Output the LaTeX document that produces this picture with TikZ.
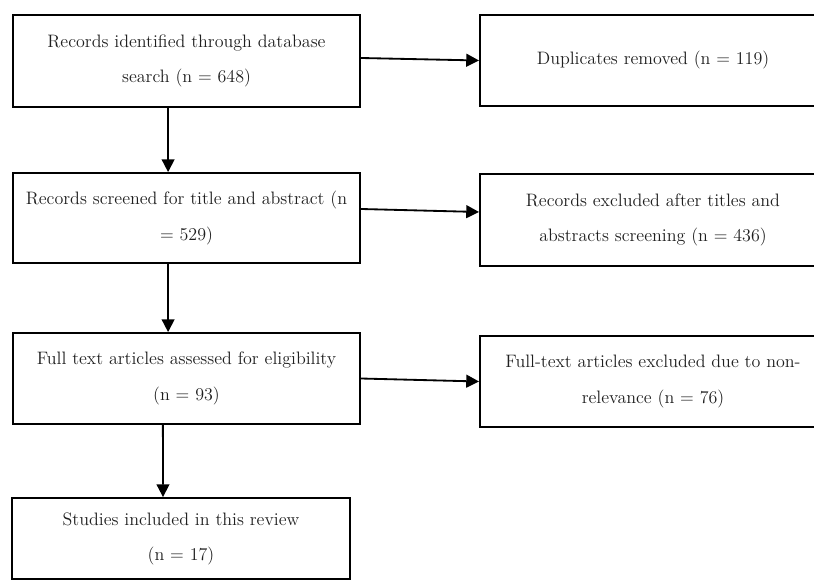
\documentclass[tikz,border=0pt]{standalone}
\usepackage{tikz}
\usetikzlibrary{arrows.meta}

\begin{document}
\begin{tikzpicture}[x=0.025cm,y=-0.025cm,>={Triangle[length=3.2mm,width=3.2mm]},line width=1.3pt,
  box/.style={draw,rectangle,align=center,inner sep=0pt,text=black!88,font=\fontsize{12.8}{25}\selectfont},
  flow/.style={->,line width=1.3pt}]
\clip (0,0) rectangle (814,582);
% left column
\node[box,minimum width=8.675cm,minimum height=2.3cm] (ident) at (186.5,61) {Records identified through database\\search (n = 648)};
\node[box,minimum width=8.675cm,minimum height=2.25cm] (screen) at (186.5,218) {Records screened for title and abstract (n\\= 529)};
\node[box,minimum width=8.675cm,minimum height=2.275cm] (full) at (186.5,378.5) {Full text articles assessed for eligibility\\(n = 93)};
\node[box,minimum width=8.45cm,minimum height=2.025cm] (incl) at (181,538.5) {Studies included in this review\\(n = 17)};
% right column
\node[box,minimum width=8.65cm,minimum height=2.275cm] (dup) at (653,60.5) {Duplicates removed (n = 119)};
\node[box,minimum width=8.65cm,minimum height=2.3cm] (excl) at (653,220) {Records excluded after titles and\\abstracts screening (n = 436)};
\node[box,minimum width=8.65cm,minimum height=2.275cm] (nonrel) at (653,381.5) {Full-text articles excluded due to non-\\relevance (n = 76)};
% arrows
\draw[flow] ([xshift=-0.46cm]ident.south) -- ([xshift=-0.46cm]screen.north);
\draw[flow] ([xshift=-0.46cm]screen.south) -- ([xshift=-0.46cm]full.north);
\draw[flow] ([xshift=-0.59cm]full.south) -- ([xshift=-0.45cm]incl.north);
\draw[flow] ([yshift=0.075cm]ident.east) -- (dup.west);
\draw[flow] ([yshift=0.225cm]screen.east) -- ([yshift=0.2cm]excl.west);
\draw[flow] (full.east) -- (nonrel.west);
\end{tikzpicture}
\end{document}
